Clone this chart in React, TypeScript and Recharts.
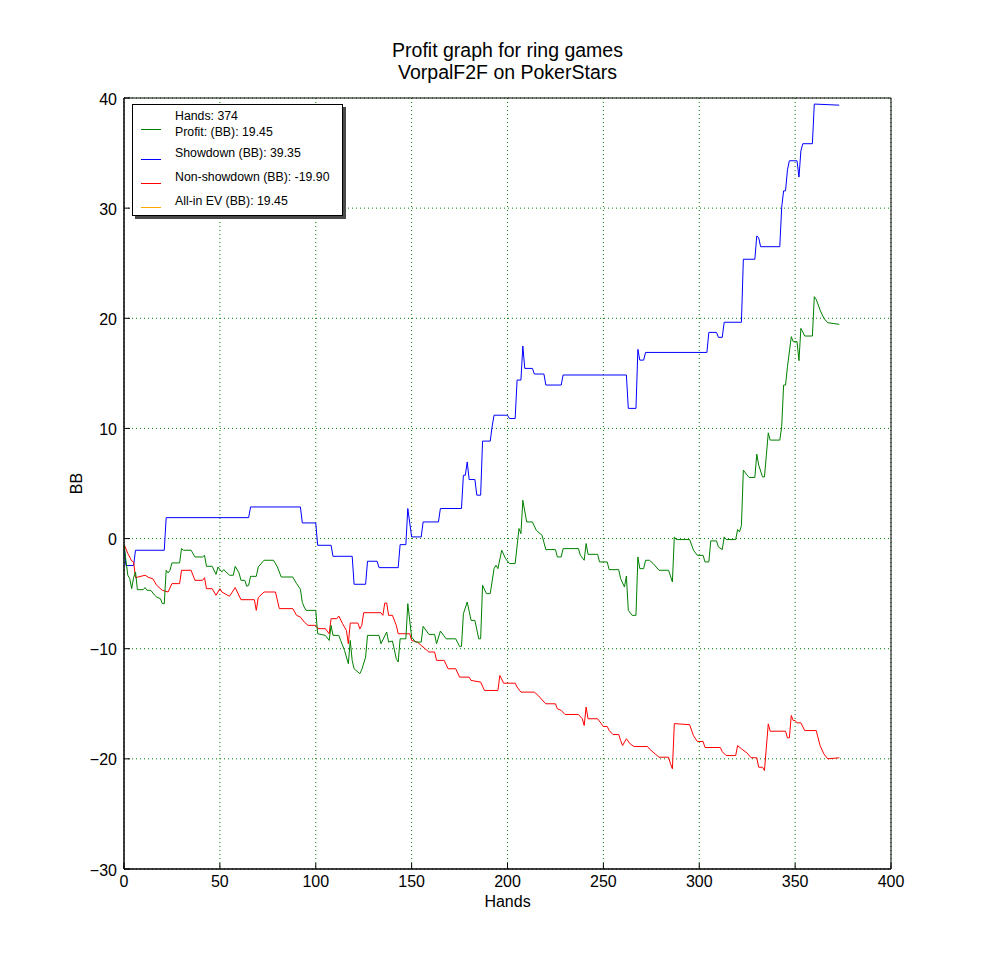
import React from 'react';
import { LineChart, Line, XAxis, YAxis, CartesianGrid, Legend, Label, ReferenceArea } from 'recharts';

// ---------- data ----------
const titleLines = ['Profit graph for ring games', 'VorpalF2F on PokerStars'];
const xTicks = [0, 50, 100, 150, 200, 250, 300, 350, 400];
const yTicks = [-30, -20, -10, 0, 10, 20, 30, 40];
const xDomain: [number, number] = [0, 400];
const yDomain: [number, number] = [-30, 40];
const xLabel = 'Hands';
const yLabel = 'BB';

const legendHeader = 'Hands: 374';
const legendLabels = ['Profit: (BB): 19.45', 'Showdown (BB): 39.35', 'Non-showdown (BB): -19.90', 'All-in EV (BB): 19.45'];
const legendColors = ['#008000', '#0000ff', '#ff0000', '#ffa500'];

// [hand, BB]
const showdownPoints: [number, number][] = [
  [0, -0.5], [1, -2.45], [5, -2.45], [6, -1.06], [21, -1.06], [22, 1.9], [65, 1.9], [66, 2.87],
  [92, 2.87], [93, 1.42], [100, 1.42], [101, -0.61], [108, -0.61], [109, -1.61], [119, -1.61],
  [120, -4.15], [126, -4.15], [127, -2.06], [132, -2.06], [133, -2.64], [143, -2.64], [144, -0.55],
  [147, -0.55], [148, 2.73], [150, 0.15], [155, 0.15], [156, 1.51], [164, 1.51], [165, 2.73],
  [176, 2.73], [177, 5.75], [178, 5.75], [179, 6.96], [180, 5.36], [183, 5.36], [184, 3.94],
  [186, 3.94], [187, 8.85], [191, 8.85], [192, 10.2], [193, 11.2], [200, 11.2], [201, 10.9],
  [204, 10.9], [205, 14.39], [207, 14.39], [208, 17.48], [209, 15.45], [213, 15.45], [214, 14.94],
  [219, 14.94], [220, 13.94], [228, 13.94], [229, 14.85], [262, 14.85], [263, 11.82], [267, 11.82],
  [268, 17.18], [269, 16.2], [271, 16.2], [272, 16.9], [304, 16.9], [305, 18.72], [309, 18.72],
  [310, 18.27], [312, 18.27], [313, 19.64], [322, 19.64], [323, 25.36], [329, 25.36], [330, 27.48],
  [331, 27.3], [332, 26.5], [342, 26.5], [343, 30.09], [344, 31.57], [345, 31.57], [346, 33.48],
  [347, 34.3], [351, 34.3], [352, 32.82], [353, 35.2], [354, 35.85], [359, 35.85], [360, 39.45],
  [373, 39.35],
];

const nonShowdownPoints: [number, number][] = [
  [0, -0.5], [2, -1.36], [4, -2.03], [5, -2.12], [6, -3.55], [11, -3.33], [13, -3.55], [15, -3.64],
  [17, -4.24], [20, -4.7], [23, -4.85], [25, -4.09], [29, -4.09], [30, -2.88], [35, -2.88],
  [37, -3.79], [41, -3.79], [42, -3.55], [43, -4.55], [46, -4.55], [48, -5.15], [50, -4.55],
  [51, -4.85], [55, -5.24], [58, -4.45], [61, -5.55], [68, -5.55], [69, -6.52], [70, -5.36],
  [73, -4.85], [79, -4.85], [81, -6.36], [88, -6.36], [90, -6.97], [92, -7.13], [94, -7.58],
  [96, -7.88], [100, -7.88], [101, -8.18], [105, -8.18], [107, -8.64], [108, -7.27], [111, -7.27],
  [112, -7.03], [114, -7.73], [116, -8.34], [117, -9.55], [118, -7.67], [122, -7.67], [123, -8.2],
  [124, -7.88], [125, -6.73], [134, -6.73], [135, -6.97], [136, -5.85], [137, -5.85], [138, -6.97],
  [140, -6.97], [142, -7.88], [143, -8.64], [149, -8.64], [150, -9.25], [153, -9.4], [155, -9.7],
  [159, -10.3], [162, -10.3], [163, -11.06], [167, -11.06], [169, -11.82], [173, -11.82],
  [175, -12.58], [180, -12.58], [181, -12.88], [186, -13.03], [188, -13.79], [195, -13.79],
  [196, -12.43], [198, -13.13], [204, -13.13], [205, -13.48], [207, -13.94], [214, -13.94],
  [216, -14.24], [218, -14.64], [220, -15.0], [225, -15.0], [226, -15.45], [228, -15.6],
  [230, -15.97], [237, -15.97], [239, -16.36], [240, -16.97], [241, -15.3], [242, -16.36],
  [247, -16.36], [249, -16.82], [250, -17.06], [252, -17.06], [253, -17.42], [255, -17.79],
  [258, -17.79], [259, -18.33], [260, -18.79], [262, -18.18], [264, -18.64], [266, -18.88],
  [273, -18.88], [274, -19.1], [277, -19.55], [279, -19.85], [284, -19.85], [285, -20.45],
  [286, -20.9], [287, -16.8], [295, -16.9], [297, -17.9], [299, -18.42], [302, -18.42],
  [303, -18.97], [311, -18.97], [312, -19.35], [314, -19.7], [319, -19.7], [320, -18.8],
  [322, -19.09], [325, -19.48], [327, -19.9], [330, -19.9], [331, -20.76], [333, -20.76],
  [334, -21.06], [335, -18.94], [336, -16.82], [337, -17.49], [345, -17.49], [346, -18.09],
  [347, -18.09], [348, -16.06], [349, -16.52], [350, -16.52], [351, -16.73], [353, -16.73],
  [355, -17.43], [361, -17.43], [363, -18.79], [365, -19.55], [367, -20.0], [373, -19.9],
];

const profitPoints: [number, number][] = [
  [0, -0.5], [1, -1.97], [2, -3.33], [3, -3.64], [4, -4.55], [5, -3.55], [6, -3.03], [7, -4.64],
  [10, -4.64], [11, -4.45], [12, -4.7], [14, -4.7], [16, -5.15], [17, -5.3], [19, -5.46],
  [20, -5.91], [21, -5.91], [22, -2.88], [23, -3.12], [24, -2.88], [25, -2.21], [29, -2.21],
  [30, -0.91], [31, -1.06], [35, -1.06], [37, -1.67], [41, -1.67], [42, -1.52], [43, -2.52],
  [46, -2.52], [48, -3.25], [49, -2.58], [51, -3.03], [52, -2.82], [55, -3.33], [57, -3.33],
  [58, -2.52], [60, -3.12], [61, -3.79], [63, -3.79], [64, -4.33], [65, -4.25], [66, -3.43],
  [69, -3.43], [70, -2.58], [73, -1.97], [78, -1.97], [80, -2.58], [82, -3.49], [88, -3.49],
  [90, -4.09], [92, -4.6], [93, -5.8], [94, -6.22], [95, -6.52], [100, -6.52], [101, -8.64],
  [105, -8.79], [107, -9.25], [108, -7.88], [109, -8.79], [112, -8.79], [113, -9.25],
  [115, -10.15], [117, -11.36], [118, -9.25], [119, -11.06], [120, -11.82], [123, -12.27],
  [124, -11.9], [126, -10.76], [127, -8.79], [133, -8.79], [134, -9.55], [137, -8.48],
  [138, -9.4], [140, -9.3], [142, -10.91], [143, -11.21], [144, -9.1], [147, -9.1], [148, -5.91],
  [150, -8.94], [152, -9.4], [155, -9.4], [156, -7.97], [159, -8.7], [162, -8.7], [163, -9.55],
  [165, -8.4], [168, -9.1], [173, -9.1], [175, -9.79], [176, -9.79], [177, -6.82], [179, -5.76],
  [181, -7.43], [183, -7.43], [185, -9.1], [186, -9.1], [187, -4.24], [189, -5.0], [191, -5.0],
  [193, -2.73], [194, -2.42], [195, -2.73], [197, -1.06], [199, -1.82], [201, -2.27], [204, -2.27],
  [206, 0.91], [207, 0.45], [208, 3.48], [210, 1.51], [213, 1.51], [215, 0.75], [218, 0.3],
  [220, -1.0], [225, -1.0], [226, -1.67], [228, -1.67], [229, -0.91], [237, -0.91], [238, -1.52],
  [240, -1.97], [241, -0.45], [242, -1.43], [247, -1.43], [248, -2.12], [252, -2.12], [253, -2.82],
  [258, -2.82], [259, -3.64], [261, -4.4], [262, -3.4], [263, -6.52], [265, -6.97], [267, -6.97],
  [268, -1.67], [269, -2.73], [271, -2.73], [272, -1.97], [274, -1.97], [276, -2.27], [279, -2.88],
  [284, -2.88], [286, -3.94], [287, 0.15], [288, -0.09], [295, -0.09], [297, -1.06], [299, -1.52],
  [302, -1.52], [303, -2.12], [305, -2.12], [306, -0.21], [309, -0.21], [310, -0.76], [312, -1.0],
  [313, 0.15], [314, -0.09], [319, -0.09], [320, 0.82], [321, 0.6], [322, 1.2], [323, 6.21],
  [325, 5.76], [326, 5.55], [329, 5.55], [330, 7.66], [331, 6.67], [333, 5.6], [334, 5.6],
  [335, 7.57], [336, 9.6], [337, 8.94], [342, 8.94], [343, 10.15], [344, 13.94], [345, 13.94],
  [346, 15.6], [348, 18.33], [349, 17.88], [351, 17.88], [352, 16.15], [353, 19.09], [355, 18.39],
  [359, 18.39], [360, 21.96], [361, 21.72], [363, 20.75], [365, 20.0], [367, 19.6], [373, 19.45],
];

// ---------- layout ----------
const FONT = '"Liberation Sans", Arial, "DejaVu Sans", sans-serif';
const CHART_W = 990;
const CHART_H = 966;
const TICK_LEN = 6;

const toRows = (pts: [number, number][]) => pts.map(([hand, bb]) => ({ hand, bb }));
const fmtNum = (v: number) => (v < 0 ? '\u2212' + Math.abs(v) : String(v));

const BottomTick = (props: any) => {
  const { x, y, payload } = props;
  return (
    <g>
      <line x1={x} x2={x} y1={y} y2={y - TICK_LEN} stroke="#000" strokeWidth={1} />
      <text x={x} y={y + 12} textAnchor="middle" dominantBaseline="central" fontSize={16} fontFamily={FONT} fill="#000">
        {fmtNum(payload.value)}
      </text>
    </g>
  );
};

const TopTick = (props: any) => {
  const { x, y } = props;
  return <line x1={x} x2={x} y1={y} y2={y + TICK_LEN} stroke="#000" strokeWidth={1} />;
};

const LeftTick = (props: any) => {
  const { x, y, payload } = props;
  return (
    <g>
      <line x1={x} x2={x + TICK_LEN} y1={y} y2={y} stroke="#000" strokeWidth={1} />
      <text x={x - 7} y={y + 1} textAnchor="end" dominantBaseline="central" fontSize={16} fontFamily={FONT} fill="#000">
        {fmtNum(payload.value)}
      </text>
    </g>
  );
};

const RightTick = (props: any) => {
  const { x, y } = props;
  return <line x1={x} x2={x - TICK_LEN} y1={y} y2={y} stroke="#000" strokeWidth={1} />;
};

const legendTextTops = [27.4, 48.4, 71.7, 95.7];
const legendLineYs = [24.5, 54.5, 78.5, 102.5];

const LegendBox = () => (
  <div
    style={{
      position: 'relative',
      width: 211,
      height: 112,
      boxSizing: 'border-box',
      border: '1px solid #000',
      background: '#fff',
      boxShadow: '3px 3px 0 #4a4a4a',
      fontFamily: FONT,
      fontSize: 12.3,
      color: '#000',
    }}
  >
    <svg width={40} height={110} style={{ position: 'absolute', left: 0, top: 0 }}>
      {legendColors.map((c, i) => (
        <line key={c} x1={8} x2={28} y1={legendLineYs[i]} y2={legendLineYs[i]} stroke={c} strokeWidth={1} />
      ))}
    </svg>
    <div style={{ position: 'absolute', left: 42, top: 10.7 - 8, lineHeight: '16px', whiteSpace: 'nowrap' }}>{legendHeader}</div>
    {legendLabels.map((lab, i) => (
      <div key={lab} style={{ position: 'absolute', left: 42, top: legendTextTops[i] - 8, lineHeight: '16px', whiteSpace: 'nowrap' }}>
        {lab}
      </div>
    ))}
  </div>
);

export default function App() {
  const profitData = toRows(profitPoints);
  const showdownData = toRows(showdownPoints);
  const nonShowdownData = toRows(nonShowdownPoints);

  return (
    <div style={{ position: 'absolute', left: 0, top: 0, width: CHART_W, height: CHART_H, background: '#fff', fontFamily: FONT }}>
      <div
        style={{
          position: 'absolute',
          left: 257.5,
          top: 38.5,
          width: 500,
          textAlign: 'center',
          fontSize: 19.5,
          lineHeight: '22.6px',
          color: '#000',
          zIndex: 2,
        }}
      >
        {titleLines.map((t) => (
          <div key={t}>{t}</div>
        ))}
      </div>
      <LineChart width={CHART_W} height={CHART_H} margin={{ top: 98, right: 99, bottom: 59, left: 74 }}>
        <CartesianGrid stroke="#008000" strokeDasharray="1 3" strokeWidth={1} />
        <XAxis
          dataKey="hand"
          type="number"
          domain={xDomain}
          ticks={xTicks}
          interval={0}
          height={38}
          tickSize={0}
          tickMargin={0}
          tickLine={false}
          axisLine={{ stroke: '#000', strokeWidth: 1 }}
          tick={<BottomTick />}
          allowDataOverflow
        >
          <Label value={xLabel} position="insideBottom" offset={0} fontSize={16} fontFamily={FONT} fill="#000" />
        </XAxis>
        <XAxis
          xAxisId="top"
          orientation="top"
          dataKey="hand"
          type="number"
          domain={xDomain}
          ticks={xTicks}
          interval={0}
          height={0}
          tickSize={0}
          tickMargin={0}
          tickLine={false}
          axisLine={{ stroke: '#000', strokeWidth: 1 }}
          tick={<TopTick />}
          allowDataOverflow
        />
        <YAxis
          type="number"
          domain={yDomain}
          ticks={yTicks}
          interval={0}
          width={50}
          tickSize={0}
          tickMargin={0}
          tickLine={false}
          axisLine={{ stroke: '#000', strokeWidth: 1 }}
          tick={<LeftTick />}
          allowDataOverflow
        >
          <Label
            value={yLabel}
            angle={-90}
            position="insideLeft"
            offset={2}
            fontSize={16}
            fontFamily={FONT}
            fill="#000"
            style={{ textAnchor: 'middle' }}
          />
        </YAxis>
        <YAxis
          yAxisId="right"
          orientation="right"
          type="number"
          domain={yDomain}
          ticks={yTicks}
          interval={0}
          width={0}
          tickSize={0}
          tickMargin={0}
          tickLine={false}
          axisLine={{ stroke: '#000', strokeWidth: 1 }}
          tick={<RightTick />}
          allowDataOverflow
        />
        <ReferenceArea
          x1={xDomain[0]}
          x2={xDomain[1]}
          y1={yDomain[0]}
          y2={yDomain[1]}
          fill="none"
          fillOpacity={0}
          stroke="#000"
          strokeWidth={1}
          ifOverflow="visible"
        />
        <Legend
          layout="vertical"
          align="center"
          verticalAlign="middle"
          wrapperStyle={{ position: 'absolute', left: 132, top: 104, width: 211, height: 112 }}
          content={() => <LegendBox />}
        />
        <Line data={showdownData} dataKey="bb" name={legendLabels[1]} stroke="#0000ff" strokeWidth={1} dot={false} activeDot={false} type="linear" isAnimationActive={false} />
        <Line data={nonShowdownData} dataKey="bb" name={legendLabels[2]} stroke="#ff0000" strokeWidth={1} dot={false} activeDot={false} type="linear" isAnimationActive={false} />
        <Line data={profitData} dataKey="bb" name={legendLabels[0]} stroke="#008000" strokeWidth={1} dot={false} activeDot={false} type="linear" isAnimationActive={false} />
      </LineChart>
    </div>
  );
}
